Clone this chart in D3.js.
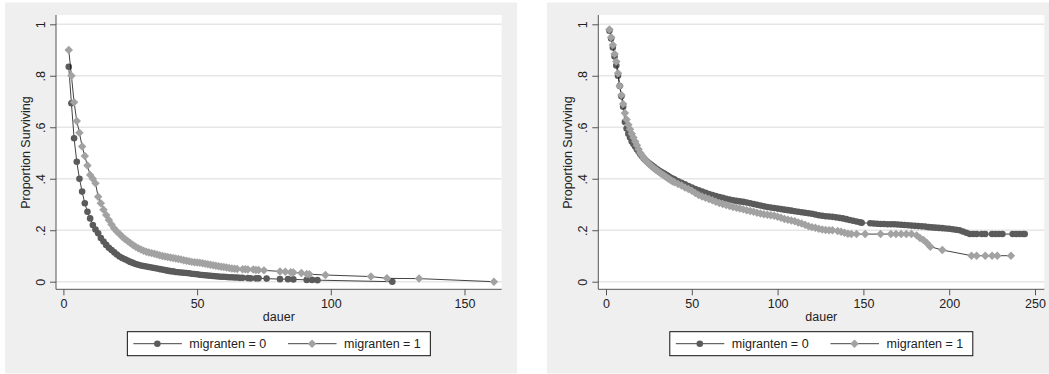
<!DOCTYPE html>
<html>
<head>
<meta charset="utf-8">
<script src="https://cdn.jsdelivr.net/npm/d3@7"></script>
<style>
  body { margin: 0; background: #fff; }
  svg { display: block; font-family: "Liberation Sans", Arial, sans-serif; }
</style>
</head>
<body>
<svg id="chart" width="1049" height="374"></svg>
<script>
// ---- data ----
// left panel, migranten = 0
const leftDauer0 = [2,3,4,5,6,7,8,9,10,11,12,13,14,15,16,17,18,19,20,21,22,23,24,25,26,27,28,29,30,31,32,33,34,35,36,37,38,39,40,41,42,43,44,45,46,47,48,49,50,51,52,53,54,55,56,57,58,59,60,61,62,63,64,65,66,67,69,70,72,73,76,81,84,86,91,93,95,123];
const leftSurv0 = [0.835,0.693,0.557,0.466,0.400,0.350,0.305,0.272,0.246,0.220,0.203,0.188,0.170,0.156,0.143,0.132,0.123,0.114,0.106,0.098,0.092,0.087,0.082,0.077,0.073,0.069,0.066,0.063,0.061,0.059,0.057,0.055,0.053,0.051,0.049,0.047,0.045,0.043,0.041,0.040,0.038,0.037,0.036,0.035,0.034,0.033,0.031,0.030,0.029,0.027,0.026,0.025,0.024,0.023,0.022,0.021,0.020,0.019,0.019,0.018,0.017,0.017,0.016,0.016,0.015,0.015,0.014,0.013,0.013,0.013,0.012,0.010,0.010,0.009,0.007,0.007,0.006,0];
// left panel, migranten = 1
const leftDauer1 = [2,3,4,5,6,7,8,9,10,11,12,13,14,15,16,17,18,19,20,21,22,23,24,25,26,27,28,29,30,31,32,33,34,35,36,37,38,39,40,41,42,43,44,45,46,47,48,49,50,51,52,53,54,55,56,57,58,59,60,61,62,63,64,65,67,68,69,71,72,73,75,81,83,85,86,89,91,92,98,115,121,133,161];
const leftSurv1 = [0.900,0.800,0.697,0.624,0.579,0.525,0.488,0.451,0.415,0.400,0.382,0.330,0.305,0.280,0.259,0.240,0.222,0.207,0.195,0.185,0.175,0.166,0.158,0.150,0.143,0.136,0.130,0.125,0.120,0.116,0.113,0.111,0.109,0.106,0.103,0.100,0.098,0.096,0.094,0.092,0.090,0.088,0.086,0.083,0.081,0.079,0.077,0.076,0.075,0.074,0.072,0.070,0.068,0.066,0.064,0.062,0.060,0.058,0.057,0.055,0.053,0.051,0.050,0.049,0.048,0.048,0.047,0.047,0.045,0.045,0.044,0.040,0.039,0.037,0.036,0.034,0.030,0.029,0.026,0.020,0.013,0.012,0];

// right panel, migranten = 0
const rightDauer0 = [2,3,4,5,6,7,8,9,10,11,12,13,14,15,16,17,18,19,20,21,22,23,24,25,26,27,28,29,30,31,32,33,34,35,36,37,38,39,40,42,44,46,48,50,52,54,56,58,60,62,64,66,68,70,72,74,76,78,80,82,84,86,88,90,92,94,96,98,100,102,104,106,108,110,112,114,116,118,120,122,124,126,128,130,132,134,136,138,140,142,144,146,148,149,154,156,158,160,162,164,166,168,170,172,174,176,178,180,182,184,186,188,190,192,194,196,198,200,202,204,206,208,210,212,214,216,219,221,225,227,229,231,237,239,241,243,244];
const rightSurv0 = [0.975,0.945,0.910,0.875,0.840,0.800,0.760,0.720,0.680,0.620,0.595,0.575,0.560,0.545,0.535,0.525,0.515,0.505,0.495,0.487,0.479,0.472,0.466,0.460,0.455,0.450,0.445,0.440,0.436,0.431,0.427,0.423,0.419,0.415,0.411,0.407,0.403,0.400,0.397,0.390,0.384,0.378,0.372,0.366,0.360,0.355,0.350,0.345,0.341,0.337,0.333,0.329,0.326,0.322,0.319,0.316,0.314,0.312,0.310,0.308,0.305,0.302,0.299,0.296,0.293,0.290,0.288,0.286,0.284,0.282,0.280,0.278,0.276,0.274,0.272,0.270,0.268,0.266,0.264,0.261,0.258,0.256,0.254,0.253,0.252,0.250,0.248,0.246,0.243,0.240,0.237,0.234,0.231,0.229,0.227,0.226,0.225,0.224,0.224,0.223,0.223,0.223,0.222,0.221,0.220,0.219,0.218,0.217,0.216,0.215,0.214,0.212,0.211,0.210,0.209,0.208,0.207,0.206,0.204,0.202,0.200,0.195,0.190,0.185,0.185,0.185,0.185,0.185,0.185,0.185,0.185,0.185,0.185,0.185,0.185,0.185,0.185];
// right panel, migranten = 1
const rightDauer1 = [2,3,4,5,6,7,8,9,10,11,12,13,14,15,16,17,18,19,20,21,22,23,24,25,26,27,28,29,30,31,32,33,34,35,36,37,38,39,40,42,44,46,48,50,52,54,56,58,60,62,64,66,68,70,72,74,76,78,80,82,84,86,88,90,92,94,96,98,100,102,104,106,108,110,112,114,116,118,120,122,124,126,128,130,132,135,137,139,141,143,146,151,160,166,169,172,175,178,181,183,185,187,189,196,213,216,221,225,228,236];
const rightSurv1 = [0.980,0.950,0.920,0.885,0.855,0.810,0.760,0.725,0.690,0.655,0.630,0.610,0.592,0.575,0.560,0.545,0.530,0.515,0.500,0.490,0.480,0.472,0.464,0.457,0.451,0.446,0.440,0.435,0.430,0.425,0.420,0.416,0.412,0.407,0.402,0.398,0.393,0.389,0.386,0.380,0.374,0.366,0.360,0.353,0.345,0.337,0.331,0.326,0.321,0.316,0.311,0.306,0.302,0.298,0.294,0.290,0.287,0.284,0.281,0.278,0.275,0.272,0.268,0.265,0.262,0.260,0.258,0.256,0.252,0.248,0.244,0.241,0.238,0.235,0.230,0.226,0.221,0.215,0.212,0.210,0.206,0.203,0.201,0.200,0.200,0.197,0.194,0.190,0.186,0.185,0.185,0.185,0.185,0.185,0.185,0.185,0.185,0.185,0.180,0.170,0.162,0.150,0.136,0.123,0.101,0.101,0.101,0.101,0.101,0.101];

const yTicks = [0, 0.2, 0.4, 0.6, 0.8, 1];
const yTickLabels = ["0", ".2", ".4", ".6", ".8", "1"];
const leftXTicks = [0, 50, 100, 150];
const rightXTicks = [0, 50, 100, 150, 200, 250];
const legendLabels = ["migranten = 0", "migranten = 1"];
const xTitle = "dauer";
const yTitle = "Proportion Surviving";

// ---- drawing ----
const svg = d3.select("#chart");
const darkCol = "#5b5b5b", lightCol = "#a2a2a2";
const circlePath = d3.symbol(d3.symbolCircle, 34)();
const diamondPath = d3.symbol(d3.symbolSquare, 36)();

function drawPanel(p) {
  const g = svg.append("g");

  g.append("rect")
    .attr("x", p.bgX).attr("y", 2.5)
    .attr("width", p.bgW).attr("height", 371)
    .attr("fill", "#efefef");

  g.append("rect")
    .attr("x", p.left).attr("y", 15)
    .attr("width", p.right - p.left).attr("height", 289.3 - 15)
    .attr("fill", "#fff");

  const x = d3.scaleLinear().domain(p.xDomain).range(p.xRange);
  const y = d3.scaleLinear().domain([0, 1]).range([281.7, 24.3]);

  // grid
  g.append("g").selectAll("line").data(yTicks).join("line")
    .attr("x1", p.left).attr("x2", p.right)
    .attr("y1", d => y(d)).attr("y2", d => y(d))
    .attr("stroke", "#e6e6e6").attr("stroke-width", 1.4);

  // y axis
  const yAx = g.append("g")
    .attr("transform", `translate(${p.left},0)`)
    .call(d3.axisLeft(y).tickValues(yTicks)
      .tickFormat((d, i) => yTickLabels[i]).tickSize(6).tickSizeOuter(0));
  yAx.select(".domain").attr("d", `M0,15V289.3`);
  yAx.selectAll(".domain, line").attr("stroke", "#555");
  yAx.selectAll("text")
    .attr("transform", "translate(-11,0) rotate(-90)")
    .attr("x", 0).attr("y", 0).attr("dy", 0)
    .attr("text-anchor", "middle")
    .attr("font-size", 12.5).attr("fill", "#222");

  // x axis
  const xAx = g.append("g")
    .attr("transform", "translate(0,289.3)")
    .call(d3.axisBottom(x).tickValues(p.xTicks).tickFormat(d3.format("d"))
      .tickSize(6).tickSizeOuter(0));
  xAx.select(".domain").attr("d", `M${p.left},0H${p.right}`);
  xAx.selectAll(".domain, line").attr("stroke", "#555");
  xAx.selectAll("text").attr("y", 0).attr("dy", 0)
    .attr("transform", "translate(0,18.5)")
    .attr("font-size", 12.5).attr("fill", "#222");

  // titles
  const cx = (p.left + p.right) / 2;
  g.append("text").attr("x", cx).attr("y", 321)
    .attr("text-anchor", "middle").attr("font-size", 12.5).attr("fill", "#222")
    .text(xTitle);
  g.append("text")
    .attr("transform", `translate(${p.left - 26},152.5) rotate(-90)`)
    .attr("text-anchor", "middle").attr("font-size", 12.5).attr("fill", "#222")
    .text(yTitle);

  // series
  const series = [
    { t: p.t0, s: p.s0, col: darkCol, shape: circlePath, rot: 0 },
    { t: p.t1, s: p.s1, col: lightCol, shape: diamondPath, rot: 45 }
  ];
  const line = d3.line().x(d => x(d[0])).y(d => y(d[1]));
  series.forEach(sr => {
    const pts = sr.t.map((t, i) => [t, sr.s[i]]);
    g.append("path").datum(pts).attr("d", line)
      .attr("fill", "none").attr("stroke", "#111").attr("stroke-width", 0.8);
    g.append("g").selectAll("path").data(pts).join("path")
      .attr("d", sr.shape)
      .attr("transform", d => `translate(${x(d[0])},${y(d[1])}) rotate(${sr.rot})`)
      .attr("fill", sr.col);
  });

  // legend
  const lx = cx - 151.5, ly = 331.7;
  const lg = g.append("g").attr("transform", `translate(${lx},${ly})`);
  lg.append("rect").attr("width", 303).attr("height", 24)
    .attr("fill", "#fff").attr("stroke", "#111").attr("stroke-width", 1);
  const items = [
    { off: 6, col: darkCol, shape: circlePath, rot: 0 },
    { off: 160.7, col: lightCol, shape: diamondPath, rot: 45 }
  ];
  items.forEach((it, i) => {
    lg.append("line").attr("x1", it.off).attr("x2", it.off + 48.5)
      .attr("y1", 12).attr("y2", 12).attr("stroke", "#111").attr("stroke-width", 0.8);
    lg.append("path").attr("d", it.shape)
      .attr("transform", `translate(${it.off + 24},12) rotate(${it.rot})`)
      .attr("fill", it.col);
    lg.append("text").attr("x", it.off + 56).attr("y", 16.5)
      .attr("font-size", 12.5).attr("fill", "#222").text(legendLabels[i]);
  });
}

drawPanel({
  bgX: 5, bgW: 512, left: 56, right: 501.7,
  xDomain: [0, 150], xRange: [63.4, 464.5], xTicks: leftXTicks,
  t0: leftDauer0, s0: leftSurv0, t1: leftDauer1, s1: leftSurv1
});
drawPanel({
  bgX: 547, bgW: 510, left: 598.3, right: 1044.3,
  xDomain: [0, 250], xRange: [606, 1035], xTicks: rightXTicks,
  t0: rightDauer0, s0: rightSurv0, t1: rightDauer1, s1: rightSurv1
});
</script>
</body>
</html>
